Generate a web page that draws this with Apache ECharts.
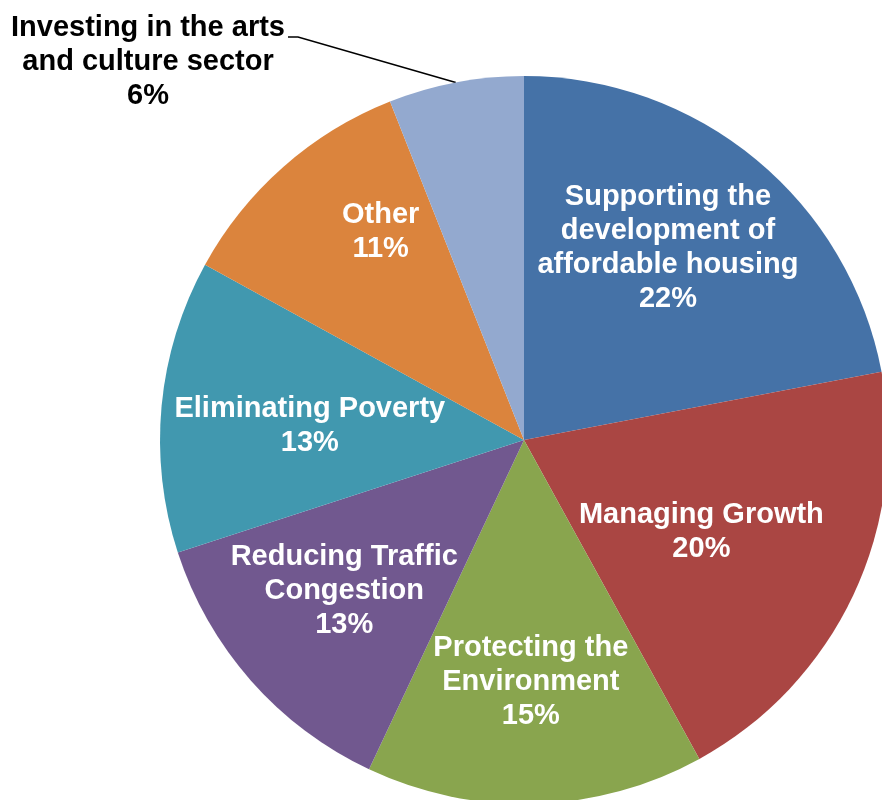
<!DOCTYPE html>
<html>
<head>
<meta charset="utf-8">
<script src="https://cdn.jsdelivr.net/npm/echarts@6/dist/echarts.min.js"></script>
<style>
  html, body { margin: 0; padding: 0; background: #fff; }
  #chart { width: 882px; height: 800px; }
</style>
</head>
<body>
<div id="chart"></div>
<script>
// Priority areas, clockwise from 12 o'clock
const categories = [
  'Supporting the\ndevelopment of\naffordable housing',
  'Managing Growth',
  'Protecting the\nEnvironment',
  'Reducing Traffic\nCongestion',
  'Eliminating Poverty',
  'Other',
  'Investing in the arts\nand culture sector'
];
const shares = [22, 20, 15, 13, 13, 11, 6];
const sliceColors = ['#4572A7', '#AA4643', '#89A54E', '#71588F', '#4198AF', '#DB843D', '#93A9CF'];

// Label nudges (px) away from the default mid-radius spot of each slice
const labelNudge = [[26, -49], [10, 13], [1, 57], [-41, 29], [-30, 3], [-21, -69], [0, 0]];

const chart = echarts.init(document.getElementById('chart'), null, { renderer: 'canvas' });

const CX = 524, CY = 440, R = 364;

const data = categories.map((name, i) => {
  const item = { name: name, value: shares[i], itemStyle: { color: sliceColors[i] } };
  if (i === categories.length - 1) {
    item.label = { position: 'outside', color: '#000' };
    item.labelLine = { show: true, length: 20, length2: 20, lineStyle: { color: '#000', width: 1.5 } };
  }
  return item;
});

chart.setOption({
  animation: false,
  backgroundColor: '#fff',
  series: [{
    type: 'pie',
    center: [CX, CY],
    radius: [0, R],
    startAngle: 90,
    clockwise: true,
    avoidLabelOverlap: false,
    itemStyle: { borderWidth: 0 },
    label: {
      show: true,
      position: 'inside',
      formatter: '{b}\n{c}%',
      color: '#fff',
      fontFamily: '"Liberation Sans", Arial, sans-serif',
      fontWeight: 'bold',
      fontSize: 29,
      lineHeight: 34,
      align: 'center'
    },
    labelLine: { show: false },
    emphasis: { disabled: true },
    labelLayout: function (params) {
      const i = params.dataIndex;
      if (i === categories.length - 1) {
        // outside label sits top-left, with a leader back to the slice edge
        const start = params.labelLinePoints ? params.labelLinePoints[0] : [CX - 68, CY - 358];
        return {
          x: CX - 376, y: CY - 378,
          align: 'center', verticalAlign: 'middle',
          labelLinePoints: [start, [CX - 226, CY - 403], [CX - 236, CY - 403]]
        };
      }
      return { dx: labelNudge[i][0], dy: labelNudge[i][1] };
    },
    data: data
  }]
});
</script>
</body>
</html>
